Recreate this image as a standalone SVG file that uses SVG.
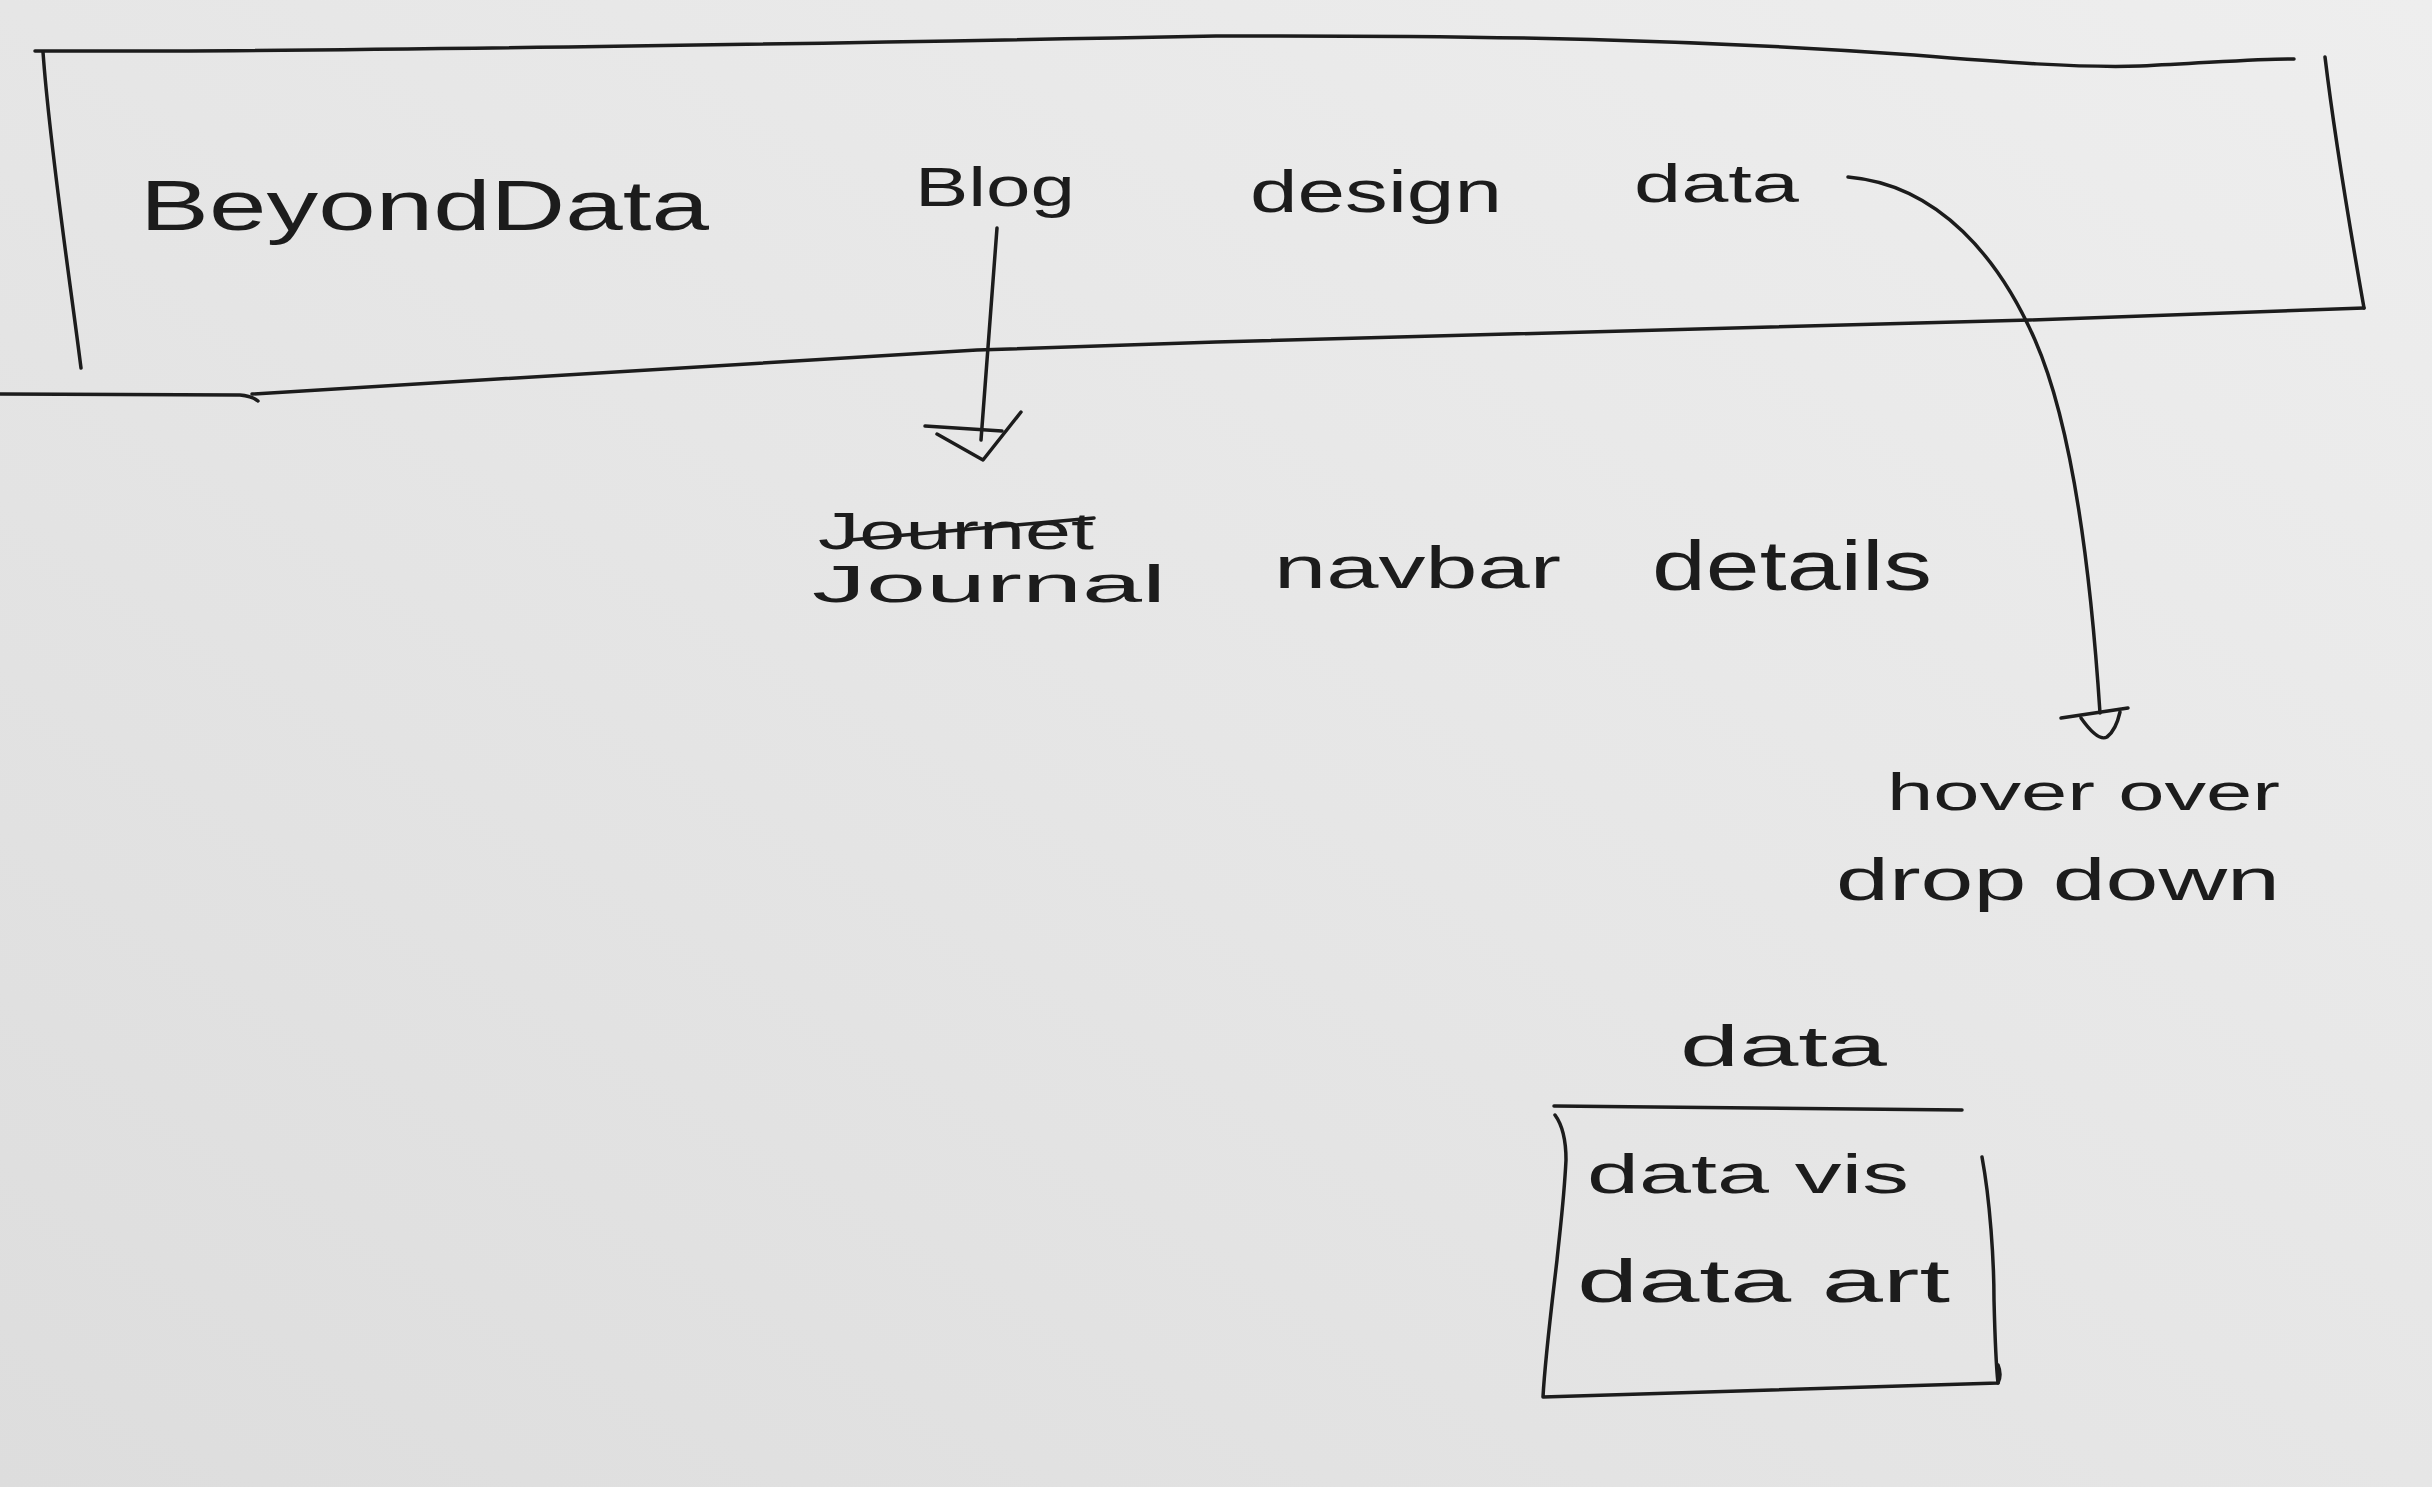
<svg xmlns="http://www.w3.org/2000/svg" width="2432" height="1487" viewBox="0 0 2432 1487">
<style>
.ink{fill:none;stroke:#1c1c1c;stroke-width:3.5;stroke-linecap:round;stroke-linejoin:round}
.hw{font-family:"Liberation Sans","DejaVu Sans",sans-serif;fill:#1c1c1c;font-weight:normal}
</style>
<defs>
<linearGradient id="paper" x1="1" y1="0" x2="0" y2="1">
<stop offset="0" stop-color="#eeeeee"/>
<stop offset="0.5" stop-color="#e6e6e6"/>
<stop offset="1" stop-color="#dddddd"/>
</linearGradient>
</defs>
<rect x="0" y="0" width="2432" height="1487" fill="url(#paper)"/>

<g id="navbar">
<path class="ink" d="M35,51 C300,52 700,46 1216,36 C1500,35 1700,40 1914,55 C2000,62 2080,68 2140,66 C2220,62 2270,58 2294,59"/>
<path class="ink" d="M43,52 C50,150 70,280 81,368"/>
<path class="ink" d="M2325,57 C2335,140 2352,240 2364,308"/>
<path class="ink" d="M2364,308 L2030,320 L1216,342 L977,350 L252,394"/>
<path class="ink" d="M0,394 L240,395 Q252,396 258,401"/>
<text class="hw" x="140" y="230" font-size="70" textLength="569" lengthAdjust="spacingAndGlyphs">BeyondData</text>
<text class="hw" x="915" y="206" font-size="56" textLength="160" lengthAdjust="spacingAndGlyphs">Blog</text>
<text class="hw" x="1250" y="212" font-size="60" textLength="252" lengthAdjust="spacingAndGlyphs">design</text>
<text class="hw" x="1634" y="202" font-size="54" textLength="165" lengthAdjust="spacingAndGlyphs">data</text>
</g>

<g id="navbar-details">
<text class="hw" x="818" y="549" font-size="52" textLength="276" lengthAdjust="spacingAndGlyphs">Journet</text>
<path class="ink" d="M850,540 L1094,518"/>
<text class="hw" x="812" y="602" font-size="52" textLength="354" lengthAdjust="spacingAndGlyphs">Journal</text>
<text class="hw" x="1274" y="588" font-size="60" textLength="287" lengthAdjust="spacingAndGlyphs">navbar</text>
<text class="hw" x="1652" y="590" font-size="70" textLength="280" lengthAdjust="spacingAndGlyphs">details</text>
</g>

<g id="hover-note">
<text class="hw" x="1887" y="810" font-size="52" textLength="393" lengthAdjust="spacingAndGlyphs">hover over</text>
<text class="hw" x="1836" y="900" font-size="60" textLength="444" lengthAdjust="spacingAndGlyphs">drop down</text>
</g>

<g id="dropdown">
<text class="hw" x="1680" y="1066" font-size="58" textLength="207" lengthAdjust="spacingAndGlyphs">data</text>
<path class="ink" d="M1554,1106 L1962,1110"/>
<path class="ink" d="M1555,1115 Q1566,1130 1566,1160 C1564,1200 1560,1230 1557,1260 C1550,1320 1545,1360 1543,1397 L1998,1383 Q2002,1375 1998,1365"/>
<path class="ink" d="M1982,1157 C1990,1200 1994,1260 1994,1300 C1995,1340 1996,1365 1998,1383"/>
<text class="hw" x="1587" y="1193" font-size="56" textLength="322" lengthAdjust="spacingAndGlyphs">data vis</text>
<text class="hw" x="1577" y="1302" font-size="62" textLength="373" lengthAdjust="spacingAndGlyphs">data art</text>
</g>

<g id="connectors">
<path class="ink" d="M997,228 L981,440"/>
<path class="ink" d="M925,426 L1002,431"/>
<path class="ink" d="M937,434 L983,460 L1021,412"/>
<path class="ink" d="M1848,177 C1940,185 2000,260 2035,340 C2070,420 2090,560 2100,713"/>
<path class="ink" d="M2061,718 L2128,708"/>
<path class="ink" d="M2081,718 Q2098,742 2107,737 Q2116,730 2120,712"/>
</g>
</svg>
